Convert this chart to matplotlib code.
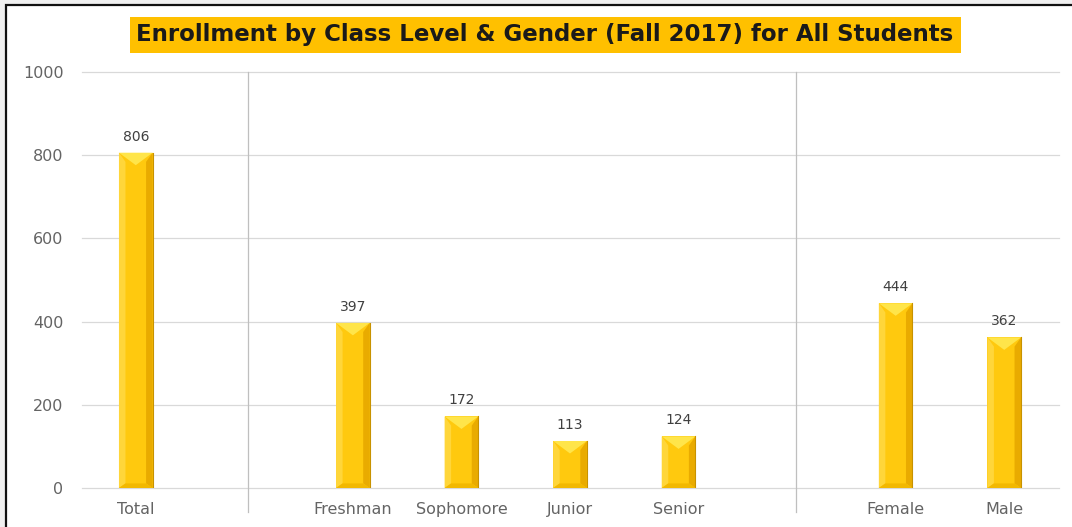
import numpy as np
import matplotlib.pyplot as plt
from matplotlib.patches import Rectangle, Polygon

# data
categories = ['Total', '', 'Freshman', 'Sophomore', 'Junior', 'Senior', '', 'Female', 'Male']
values = [806, None, 397, 172, 113, 124, None, 444, 362]
separators = [1.03, 6.08]
title = 'Enrollment by Class Level & Gender (Fall 2017) for All Students'

fig = plt.figure(figsize=(10.72, 5.27), dpi=100)
fig.patch.set_facecolor('#f0f0f0')
frame = Rectangle((6 / 1072, -0.1), 1.1, 1.1 - 5 / 527,
                  transform=fig.transFigure, facecolor='white',
                  edgecolor='#111111', linewidth=1.6, zorder=-10)
fig.add_artist(frame)

ax = fig.add_axes([81.5 / 1072, 1 - 488 / 527, 977 / 1072, 416 / 527])
ax.set_facecolor('none')
ax.set_xlim(-0.5, len(categories) - 0.5)
ax.set_ylim(0, 1000)
ax.set_yticks(np.arange(0, 1001, 200))
ax.grid(axis='y', color='#d9d9d9', linewidth=0.9)
for gl in ax.get_ygridlines():
    gl.set_clip_on(False)
ax.set_axisbelow(True)
for s in ax.spines.values():
    s.set_visible(False)
ax.tick_params(length=0, colors='#646464', labelsize=11.5)
ax.tick_params(axis='y', pad=13)
ax.tick_params(axis='x', pad=10)
ax.set_xticks(range(len(categories)))
ax.set_xticklabels(categories)

# bars with a bevel look
w = 0.31
dx = 0.06
dy = 22
ddy = 30
for i, v in enumerate(values):
    if v is None:
        continue
    x0, x1, xc = i - w / 2, i + w / 2, i
    ax.add_patch(Rectangle((x0, 0), w, v, facecolor='#ffc90e', edgecolor='none', zorder=2))
    # side facets
    ax.add_patch(Polygon([(x0, v), (x0 + dx, v - dy), (x0 + dx, dy / 2), (x0, 0)],
                         facecolor='#ffd63a', edgecolor='none', zorder=3))
    ax.add_patch(Polygon([(x1, v), (x1 - dx, v - dy), (x1 - dx, dy / 2), (x1, 0)],
                         facecolor='#e9ab00', edgecolor='none', zorder=3))
    ax.add_patch(Polygon([(x0, 0), (x0 + dx, dy / 2), (x1 - dx, dy / 2), (x1, 0)],
                         facecolor='#f2b800', edgecolor='none', zorder=3))
    # top facet
    ax.add_patch(Polygon([(x0, v), (x1, v), (xc, v - ddy)],
                         facecolor='#ffe54a', edgecolor='none', zorder=4))
    ax.plot([x1, x1], [0, v], color='#c89200', linewidth=0.8, zorder=5)
    ax.text(i, v + 22, str(v), ha='center', va='bottom', fontsize=10, color='#404040')

for s in separators:
    ax.plot([s, s], [1000, -58], color='#bfbfbf', linewidth=0.9, clip_on=False, zorder=1)

fig.text(545 / 1072, 1 - 35 / 527, title, ha='center', va='center',
         fontsize=16.5, fontweight='bold', color='#1a1a1a',
         bbox=dict(boxstyle='square,pad=0.3', facecolor='#ffc000', edgecolor='none'))

fig.savefig('out.png', dpi=100, facecolor=fig.get_facecolor())
